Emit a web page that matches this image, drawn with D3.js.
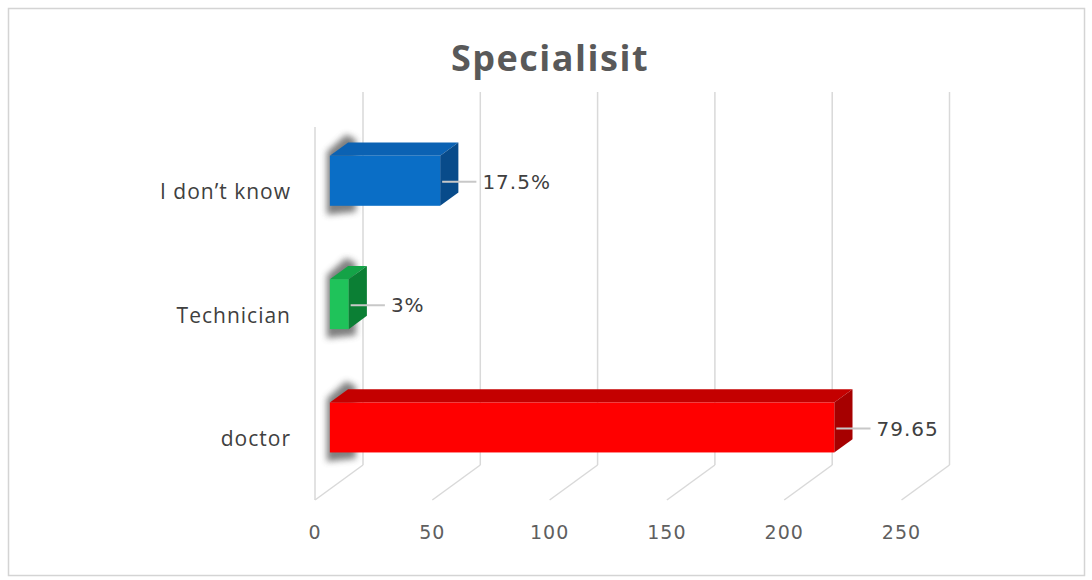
<!DOCTYPE html>
<html>
<head>
<meta charset="utf-8">
<script src="https://cdn.jsdelivr.net/npm/d3@7/dist/d3.min.js"></script>
<style>
  html, body { margin: 0; padding: 0; background: #fff; }
  svg { display: block; }
</style>
</head>
<body>
<svg id="chart" width="1092" height="580"></svg>
<script>
// Chart data
const categories = ["I don\u2019t know", "Technician", "doctor"];
const counts = [47, 8, 215];
const valueLabels = ["17.5%", "3%", "79.65"];
const tickValues = [0, 50, 100, 150, 200, 250];
const titleText = "Specialisit";

// Colours per bar: front, top, side
const barColors = [
  { front: "#0a6ec6", top: "#0b62b3", side: "#084b8a" },
  { front: "#1fc35a", top: "#14a347", side: "#0b7f34" },
  { front: "#ff0000", top: "#c40000", side: "#a60000" }
];

const svg = d3.select("#chart");

// Frame
svg.append("rect")
  .attr("x", 8.5).attr("y", 8.5)
  .attr("width", 1076).attr("height", 567)
  .attr("fill", "#fff")
  .attr("stroke", "#d4d4d4")
  .attr("stroke-width", 1.5);

// Title
svg.append("text")
  .attr("x", 550).attr("y", 71)
  .attr("text-anchor", "middle")
  .attr("font-family", "'Open Sans', sans-serif")
  .attr("font-weight", 700)
  .attr("font-size", 36)
  .attr("letter-spacing", 1.5)
  .attr("fill", "#595959")
  .text(titleText);

// 3D plot geometry: front plane + depth vector
const depth = { dx: 48, dy: -35 };
const x = d3.scaleLinear().domain([0, 250]).range([315, 901.5]);
const y = d3.scaleBand().domain(categories).range([130, 500])
  .paddingInner(0.595).paddingOuter(0.2975);

const frontBottom = 500, backTop = 92;
const backBottom = frontBottom + depth.dy;

const grid = svg.append("g").attr("stroke", "#d9d9d9").attr("stroke-width", 1.5).attr("fill", "none");

// Back-wall gridlines
grid.selectAll("line.back").data(tickValues).join("line")
  .attr("class", "back")
  .attr("x1", d => x(d) + depth.dx).attr("x2", d => x(d) + depth.dx)
  .attr("y1", backTop).attr("y2", backBottom);

// Floor lines running from front to back
grid.selectAll("line.floor").data(tickValues).join("line")
  .attr("class", "floor")
  .attr("x1", d => x(d)).attr("y1", frontBottom)
  .attr("x2", d => x(d) + depth.dx).attr("y2", backBottom);

// Side wall front edge
grid.append("line")
  .attr("x1", x(0)).attr("x2", x(0))
  .attr("y1", backTop - depth.dy).attr("y2", frontBottom);

// Tick labels on the value axis
svg.append("g").selectAll("text").data(tickValues).join("text")
  .attr("x", d => x(d)).attr("y", 539)
  .attr("text-anchor", "middle")
  .attr("font-family", "'DejaVu Sans', sans-serif")
  .attr("font-size", 19)
  .attr("letter-spacing", 1)
  .attr("fill", "#5f5f5f")
  .text(d => d);

// Category labels
svg.append("g").selectAll("text").data(categories).join("text")
  .attr("x", 291)
  .attr("y", d => y(d) + y.bandwidth() / 2)
  .attr("dy", "0.36em")
  .attr("text-anchor", "end")
  .attr("font-family", "'Open Sans', sans-serif")
  .attr("font-size", 21)
  .attr("letter-spacing", 1)
  .attr("fill", "#404040")
  .text(d => d);

// Bars occupy a slab between these depth fractions
const d0 = 0.31, d1 = 0.69;
const ox0 = depth.dx * d0, oy0 = depth.dy * d0;
const ox1 = depth.dx * d1, oy1 = depth.dy * d1;

const defs = svg.append("defs");
defs.append("filter").attr("id", "soft")
  .attr("x", "-50%").attr("y", "-50%").attr("width", "200%").attr("height", "200%")
  .append("feGaussianBlur").attr("stdDeviation", 3);

const bars = categories.map((c, i) => {
  const fx0 = x(0) + ox0;
  const fx1 = x(counts[i]) + ox0;
  const fy0 = y(c) + oy0;
  const fy1 = y(c) + y.bandwidth() + oy0;
  return { c, i, fx0, fx1, fy0, fy1, bx: ox1 - ox0, by: oy1 - oy0 };
});

const line = d3.line();

// Soft shadow along the left of each bar
svg.append("g").selectAll("path").data(bars).join("path")
  .attr("d", b => line([
    [b.fx0 - 3, b.fy1 + 9],
    [b.fx0 - 3, b.fy0 - 4],
    [b.fx0 + b.bx - 2, b.fy0 + b.by - 8],
    [Math.min(b.fx0 + 26, b.fx1 + b.bx), b.fy0 + b.by - 3],
    [Math.min(b.fx0 + 26, b.fx1 + b.bx), b.fy1 + 6]
  ]) + "Z")
  .attr("fill", "#4a4a4a")
  .attr("opacity", 0.7)
  .attr("filter", "url(#soft)");

const barG = svg.append("g").selectAll("g").data(bars).join("g");

// Top face
barG.append("path")
  .attr("d", b => line([
    [b.fx0, b.fy0], [b.fx1, b.fy0],
    [b.fx1 + b.bx, b.fy0 + b.by], [b.fx0 + b.bx, b.fy0 + b.by]
  ]) + "Z")
  .attr("fill", b => barColors[b.i].top);

// Right side face
barG.append("path")
  .attr("d", b => line([
    [b.fx1, b.fy0], [b.fx1 + b.bx, b.fy0 + b.by],
    [b.fx1 + b.bx, b.fy1 + b.by], [b.fx1, b.fy1]
  ]) + "Z")
  .attr("fill", b => barColors[b.i].side);

// Front face
barG.append("rect")
  .attr("x", b => b.fx0).attr("y", b => b.fy0)
  .attr("width", b => b.fx1 - b.fx0).attr("height", b => b.fy1 - b.fy0)
  .attr("fill", b => barColors[b.i].front);

// Leader lines and value labels
const labelGap = 24;
barG.append("line")
  .attr("x1", b => b.fx1 + 2)
  .attr("x2", b => b.fx1 + b.bx + labelGap - 6)
  .attr("y1", b => (b.fy0 + b.fy1) / 2 + 1)
  .attr("y2", b => (b.fy0 + b.fy1) / 2 + 1)
  .attr("stroke", "#c8c8c8")
  .attr("stroke-width", 2);

barG.append("text")
  .attr("x", b => b.fx1 + b.bx + labelGap)
  .attr("y", b => (b.fy0 + b.fy1) / 2 + 1)
  .attr("dy", "0.36em")
  .attr("font-family", "'DejaVu Sans', sans-serif")
  .attr("font-size", 20)
  .attr("letter-spacing", 1)
  .attr("fill", "#404040")
  .text(b => valueLabels[b.i]);
</script>
</body>
</html>
